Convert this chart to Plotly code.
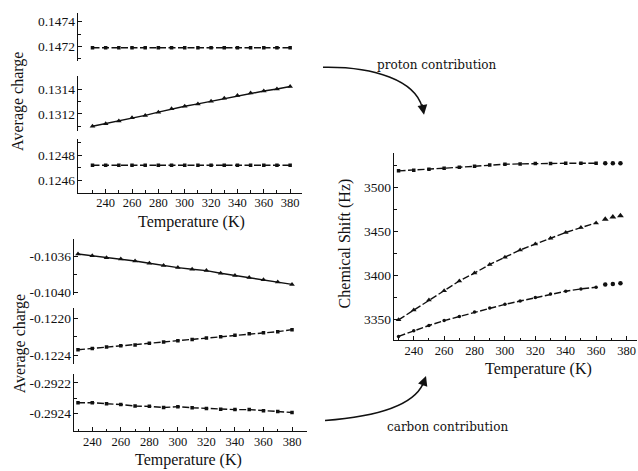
import plotly.graph_objects as go

W, H = 638, 471
FONT = "Liberation Serif"
INK = "#111111"

# ---------------- data ----------------
T_left = [230, 240, 250, 260, 270, 280, 290, 300, 310, 320, 330, 340, 350, 360, 370, 380]

q_top1 = [0.14719, 0.14719, 0.14719, 0.14719, 0.14719, 0.14719, 0.14719, 0.14719,
          0.14719, 0.14719, 0.14719, 0.14719, 0.14719, 0.14719, 0.14719, 0.14719]
q_top2 = [0.131099, 0.131120, 0.131141, 0.131168, 0.131187, 0.131213, 0.131240, 0.131261,
          0.131280, 0.131301, 0.131325, 0.131347, 0.131368, 0.131384, 0.131400, 0.131421]
q_top3 = [0.12472, 0.12472, 0.12472, 0.12472, 0.12472, 0.12472, 0.12472, 0.12472,
          0.12472, 0.12472, 0.12472, 0.12472, 0.12472, 0.12472, 0.12472, 0.12472]

q_bot1 = [-0.103570, -0.103589, -0.103611, -0.103626, -0.103648, -0.103674, -0.103700, -0.103722,
          -0.103741, -0.103756, -0.103785, -0.103811, -0.103833, -0.103859, -0.103885, -0.103911]
q_bot2 = [-0.122341, -0.122327, -0.122313, -0.122299, -0.122289, -0.122271, -0.122257, -0.122243,
          -0.122230, -0.122216, -0.122202, -0.122184, -0.122170, -0.122157, -0.122146, -0.122125]
q_bot3 = [-0.292329, -0.292329, -0.292336, -0.292341, -0.292351, -0.292353, -0.292360, -0.292355,
          -0.292362, -0.292367, -0.292372, -0.292374, -0.292374, -0.292381, -0.292386, -0.292393]

T_right = [230, 240, 250, 260, 270, 280, 290, 300, 310, 320, 330, 340, 350, 360]
T_extra = [366, 371, 376]
shift_1 = [3518.7, 3519.5, 3520.6, 3521.7, 3522.8, 3524.0, 3525.4, 3526.2,
           3526.6, 3527.0, 3527.0, 3527.3, 3527.3, 3527.3]
shift_1x = [3527.3, 3527.3, 3527.3]
shift_2 = [3349.3, 3360.6, 3371.8, 3382.3, 3393.5, 3402.5, 3412.3, 3420.5,
           3428.7, 3435.5, 3442.2, 3448.6, 3454.2, 3459.5]
shift_2x = [3463.6, 3466.3, 3467.7]
shift_3 = [3330.5, 3337.0, 3342.9, 3348.5, 3353.0, 3358.3, 3362.8, 3366.9,
           3370.7, 3374.7, 3378.6, 3381.9, 3384.5, 3386.4]
shift_3x = [3389.4, 3390.1, 3390.9]

x_ticks = [240, 260, 280, 300, 320, 340, 360, 380]
x_minor = [230, 250, 270, 290, 310, 330, 350, 370, 390]

top_ticks = [[0.1474, 0.1472], [0.1314, 0.1312], [0.1248, 0.1246]]
top_minor = [[0.1473, 0.1471], [0.1313, 0.1311], [0.1249, 0.1247]]
bot_ticks = [[-0.1036, -0.1040], [-0.1220, -0.1224], [-0.2922, -0.2924]]
bot_text = [["-0.1036", "-0.1040"], ["-0.1220", "-0.1224"], ["-0.2922", "-0.2924"]]
bot_minor = [[-0.1034, -0.1038], [-0.1222], [-0.2923]]
shift_ticks = [3350, 3400, 3450, 3500]
shift_minor = [3375, 3425, 3475, 3525]

texts = {
    "ylab": "Average charge",
    "xlab": "Temperature (K)",
    "ylab_r": "Chemical Shift (Hz)",
    "proton": "proton contribution",
    "carbon": "carbon contribution",
}

# ---------------- helpers ----------------
def fx(px):
    return px / W

def fy(py):
    return 1 - py / H

DASH = "7px,2.5px"

def line_trace(x, y, xa, ya, symbol, size=4.5, dash=DASH):
    return go.Scatter(x=x, y=y, xaxis=xa, yaxis=ya, mode="lines+markers",
                      line=dict(color=INK, width=1.4, dash=dash),
                      marker=dict(symbol=symbol, size=size, color=INK),
                      showlegend=False, hoverinfo="skip")

def dots_trace(x, y, xa, ya, symbol, size=4.5):
    return go.Scatter(x=x, y=y, xaxis=xa, yaxis=ya, mode="markers",
                      marker=dict(symbol=symbol, size=size, color=INK),
                      showlegend=False, hoverinfo="skip")

fig = go.Figure()
# top-left
fig.add_trace(line_trace(T_left, q_top1, "x", "y", "square", 3.5))
fig.add_trace(line_trace(T_left, q_top2, "x", "y2", "triangle-up", 5, "solid"))
fig.add_trace(line_trace(T_left, q_top3, "x", "y3", "square", 3.5))
# bottom-left
fig.add_trace(line_trace(T_left, q_bot1, "x2", "y4", "triangle-up", 5, "solid"))
fig.add_trace(line_trace(T_left, q_bot2, "x2", "y5", "square", 3.5))
fig.add_trace(line_trace(T_left, q_bot3, "x2", "y6", "square", 3.5))
# right
fig.add_trace(line_trace(T_right, shift_1, "x3", "y7", "square", 3.5))
fig.add_trace(dots_trace(T_extra, shift_1x, "x3", "y7", "circle", 4.5))
fig.add_trace(line_trace(T_right, shift_2, "x3", "y7", "triangle-up", 5))
fig.add_trace(dots_trace(T_extra, shift_2x, "x3", "y7", "triangle-up", 6))
fig.add_trace(line_trace(T_right, shift_3, "x3", "y7", "circle", 3.5))
fig.add_trace(dots_trace(T_extra, shift_3x, "x3", "y7", "circle", 4.5))

tickfont = dict(family=FONT, size=13.5, color=INK)

def xaxis_def(dom, rng, anchor):
    return dict(domain=[fx(dom[0]), fx(dom[1])], range=rng, anchor=anchor,
                showline=True, linecolor=INK, linewidth=1.4, showgrid=False, zeroline=False,
                ticks="inside", ticklen=4, tickwidth=1.2, tickcolor=INK,
                tickmode="array", tickvals=x_ticks, ticklabelstandoff=-2,
                tickfont=dict(family=FONT, size=12.5, color=INK),
                minor=dict(ticks="inside", ticklen=2.5, tickwidth=1, tickcolor=INK, tickvals=x_minor))

def yaxis_def(dom_px, rng, anchor, tv, tt, mv):
    return dict(domain=[fy(dom_px[1]), fy(dom_px[0])], range=rng, anchor=anchor,
                showline=True, linecolor=INK, linewidth=1.4, showgrid=False, zeroline=False,
                ticks="inside", ticklen=4, tickwidth=1.2, tickcolor=INK,
                tickmode="array", tickvals=tv, ticktext=tt, tickfont=tickfont,
                ticklabelstandoff=-1,
                minor=dict(ticks="inside", ticklen=2.5, tickwidth=1, tickcolor=INK, tickvals=mv))

fmt4 = lambda vals: ["%.4f" % v for v in vals]

layout = dict(
    width=W, height=H, margin=dict(l=0, r=0, t=0, b=0),
    paper_bgcolor="white", plot_bgcolor="rgba(0,0,0,0)",
    font=dict(family=FONT, color=INK),
    xaxis=xaxis_def((78, 302), [219, 389], "y3"),
    xaxis2=xaxis_def((74, 307), [227.2, 390.5], "y6"),
    xaxis3=xaxis_def((394, 637), [227.0, 386.9], "y7"),
    yaxis=yaxis_def((13, 62), [0.14708, 0.147472], "x", top_ticks[0], fmt4(top_ticks[0]), top_minor[0]),
    yaxis2=yaxis_def((77, 132), [0.131064, 0.131504], "x", top_ticks[1], fmt4(top_ticks[1]), top_minor[1]),
    yaxis3=yaxis_def((140, 195), [0.124496, 0.124936], "x", top_ticks[2], fmt4(top_ticks[2]), top_minor[2]),
    yaxis4=yaxis_def((242, 298), [-0.104028, -0.103406], "x2", bot_ticks[0], bot_text[0], bot_minor[0]),
    yaxis5=yaxis_def((311, 368), [-0.122496, -0.121888], "x2", bot_ticks[1], bot_text[1], bot_minor[1]),
    yaxis6=yaxis_def((378, 436), [-0.292516, -0.292142], "x2", bot_ticks[2], bot_text[2], bot_minor[2]),
    yaxis7=yaxis_def((155, 344), [3326.0, 3538.6], "x3", shift_ticks, [str(v) for v in shift_ticks], shift_minor),
)
fig.update_layout(**layout)

title_font = dict(family=FONT, size=16, color=INK)
ann = [
    dict(text=texts["ylab"], x=fx(18), y=fy(103), textangle=-90),
    dict(text=texts["xlab"], x=fx(191), y=fy(224)),
    dict(text=texts["ylab"], x=fx(20), y=fy(347), textangle=-90),
    dict(text=texts["xlab"], x=fx(188), y=fy(464.5)),
    dict(text=texts["ylab_r"], x=fx(345), y=fy(246), textangle=-90),
    dict(text=texts["xlab"], x=fx(538), y=fy(373)),
]
for a in ann:
    fig.add_annotation(xref="paper", yref="paper", showarrow=False, font=title_font,
                       xanchor="center", yanchor="middle", **a)

label_font = dict(family="DejaVu Serif", size=12, color=INK)
fig.add_annotation(xref="paper", yref="paper", showarrow=False, font=label_font,
                   text=texts["proton"], x=fx(437), y=fy(66), xanchor="center", yanchor="middle")
fig.add_annotation(xref="paper", yref="paper", showarrow=False, font=label_font,
                   text=texts["carbon"], x=fx(447), y=fy(432), xanchor="center", yanchor="middle")

# curved arrows
def cpath(pts):
    (x0, y0), (x1, y1), (x2, y2), (x3, y3) = pts
    return "M %f,%f C %f,%f %f,%f %f,%f" % (fx(x0), fy(y0), fx(x1), fy(y1),
                                            fx(x2), fy(y2), fx(x3), fy(y3))

fig.add_shape(type="path", xref="paper", yref="paper",
              path=cpath([(323, 68), (375, 67), (415, 82), (422, 108)]),
              line=dict(color=INK, width=1.5))
fig.add_shape(type="path", xref="paper", yref="paper",
              path=cpath([(325, 425), (378, 421), (413, 410), (423, 388)]),
              line=dict(color=INK, width=1.5))
fig.add_annotation(xref="paper", yref="paper", x=fx(424), y=fy(116), ax=-2, ay=-12,
                   showarrow=True, arrowhead=2, arrowsize=1.3, arrowwidth=1.5,
                   arrowcolor=INK, text="")
fig.add_annotation(xref="paper", yref="paper", x=fx(426), y=fy(380), ax=-4, ay=11,
                   showarrow=True, arrowhead=2, arrowsize=1.3, arrowwidth=1.5,
                   arrowcolor=INK, text="")

fig.write_html("out.html", config={"displayModeBar": False},
               post_script="document.body.style.margin='0px';document.body.style.padding='0px';")
